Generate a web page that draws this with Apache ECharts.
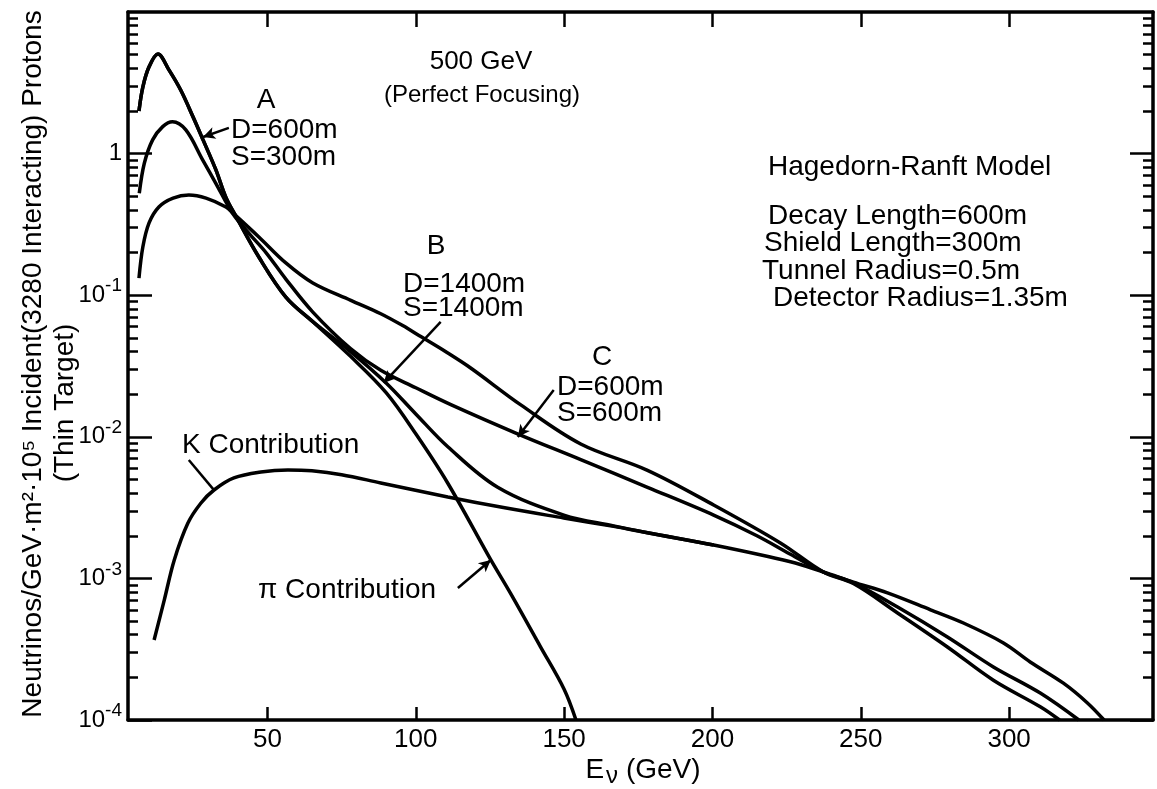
<!DOCTYPE html>
<html><head><meta charset="utf-8">
<script src="https://cdn.jsdelivr.net/npm/echarts@6/dist/echarts.min.js"></script>
<style>html,body{margin:0;padding:0;background:#fff}#c{width:1157px;height:789px}</style>
</head><body><div id="c"></div>
<script>
// ---- data (E in GeV, flux) ----
const curveA = [[6.7,2.0],[8.0,2.95],[10.1,4.1],[13.1,5.05],[16.8,3.9],[20.8,2.8],[24.9,1.82],[28.3,1.25],[32.6,0.77],[36.0,0.49],[39.4,0.36],[47.1,0.186],[56.2,0.097],[65.3,0.065],[78,0.04],[90,0.024],[100,0.0145],[110.8,0.0085],[127.6,0.0044],[149.9,0.0028],[166.7,0.00235],[178.1,0.0021],[200.4,0.00172],[226.3,0.00131],[237.4,0.00111],[247.5,0.00094],[259,0.00079],[273.5,0.0006],[284.6,0.000484],[298.1,0.00035],[307.1,0.000257],[318.3,0.000182],[326.4,0.000132],[332,0.0001]];
const curveB = [[6.7,0.132],[8.0,0.219],[10.1,0.324],[13.4,0.42],[18.2,0.485],[23.5,0.51],[29.3,0.485],[36.0,0.42],[38.4,0.38],[47.1,0.258],[56.2,0.169],[65.3,0.122],[78.1,0.092],[88.2,0.074],[95.6,0.061],[101.7,0.051],[110,0.04],[118.5,0.0306],[135.4,0.0168],[155.6,0.0089],[178.1,0.0058],[200.4,0.0033],[222.9,0.00178],[237.4,0.00111],[247.5,0.00092],[262.4,0.00057],[279.2,0.000328],[294.7,0.000191],[310.5,0.000124],[317,0.0001]];
const curveC = [[6.8,0.525],[8.5,0.855],[11.3,1.25],[14.7,1.55],[18.0,1.68],[22.5,1.47],[28.2,0.90],[32.6,0.617],[38.3,0.378],[44,0.27],[49.5,0.2],[56.2,0.13],[65.3,0.076],[78,0.042],[88.2,0.0295],[100,0.0222],[112,0.0168],[134.3,0.0105],[155.6,0.0069],[178.1,0.0044],[200.4,0.0028],[215,0.002],[226.3,0.00148],[237.4,0.00111],[247.5,0.00093],[262.4,0.000628],[279.2,0.000386],[294.7,0.000237],[310.5,0.000155],[323.5,0.0001]];
const piContribution = [[6.7,2.0],[8.0,2.95],[10.1,4.1],[13.1,5.05],[16.8,3.9],[20.8,2.8],[24.9,1.82],[28.3,1.25],[32.6,0.77],[36.0,0.49],[39.4,0.36],[47.1,0.186],[56.2,0.097],[65.3,0.065],[78,0.037],[90,0.0205],[100,0.0105],[110.8,0.0047],[125.3,0.00135],[132,0.00078],[142,0.00033],[150,0.000165],[154,0.0001]];
const kContribution = [[11.8,0.000367],[15.2,0.0007],[18.6,0.00135],[23.2,0.00246],[27.6,0.00341],[32.0,0.00421],[38.7,0.00512],[47.8,0.00564],[56.9,0.00583],[65,0.00575],[75,0.0054],[88.2,0.00472],[110.8,0.00376],[130,0.00315],[149.9,0.00267],[166.7,0.00233],[178.1,0.0021],[200.4,0.00172]];
const xTickValues = [50,100,150,200,250,300];
const yDecades = [1e-4,1e-3,1e-2,1e-1,1];
const yLabelText = {'0.0001':'-4','0.001':'-3','0.01':'-2','0.1':'-1'};

const minorValues = [];
[-4,-3,-2,-1,0].forEach(d => { for (let k=2;k<=9;k++) minorValues.push(+(k*Math.pow(10,d)).toPrecision(3)); });

const FONT = 'Liberation Sans';
const chart = echarts.init(document.getElementById('c'), null, {renderer:'canvas'});

function lineSeries(name, data) {
  return { name, type:'line', data, xAxisIndex:0, yAxisIndex:0, showSymbol:false, symbol:'none',
    smooth:0.35, lineStyle:{color:'#000', width:3.5}, silent:true, z:3 };
}
function yAx(pos, ticks, len, showLine, showLabel) {
  return { type:'log', logBase:10, min:1e-4, max:10, position:pos, gridIndex:0,
    axisLine:{show:showLine, onZero:false, lineStyle:{color:'#000', width:3.5}},
    axisTick:{show:true, inside:true, length:len, customValues:ticks, lineStyle:{color:'#000', width:2.5}},
    splitLine:{show:false}, minorTick:{show:false},
    axisLabel: showLabel ? {show:true, customValues:yDecades, margin:6, color:'#000',
      fontFamily:FONT, fontSize:24,
      formatter: v => { const k = String(+v.toPrecision(3)); return yLabelText[k] ? '{b|10}{s|' + yLabelText[k] + '}' : '{b|1}'; },
      rich:{ b:{fontFamily:FONT, fontSize:24, color:'#000'}, s:{fontFamily:FONT, fontSize:19, color:'#000', padding:[0,0,18,0]} } } : {show:false}
  };
}
function arrow(from, to, head) {
  return [{coord:from, symbol:'none'},{coord:to, symbol: head ? 'arrow' : 'none', symbolSize:[9,12]}];
}
function txt(x, y, text, align, size) {
  return {type:'text', x, y, silent:true, style:{text, fill:'#000', font: (size||28) + 'px "' + FONT + '"',
    textAlign:align||'left', align:align||'left', textVerticalAlign:'middle', verticalAlign:'middle'}};
}

const option = {
  animation:false,
  backgroundColor:'#fff',
  grid:{left:128, right:4, top:12, bottom:69, containLabel:false},
  xAxis:[
    {type:'value', min:3, max:348.5, position:'bottom',
      axisLine:{onZero:false, lineStyle:{color:'#000', width:3.5}},
      axisTick:{inside:true, length:13, customValues:xTickValues, lineStyle:{color:'#000', width:2.5}},
      axisLabel:{customValues:xTickValues, color:'#000', fontFamily:FONT, fontSize:26, margin:7},
      splitLine:{show:false}},
    {type:'value', min:3, max:348.5, position:'top',
      axisLine:{onZero:false, lineStyle:{color:'#000', width:3.5}},
      axisTick:{inside:true, length:15, customValues:xTickValues, lineStyle:{color:'#000', width:2.5}},
      axisLabel:{show:false}, splitLine:{show:false}}
  ],
  yAxis:[
    yAx('left', minorValues, 10, true, true),
    yAx('left', yDecades, 24, false, false),
    yAx('right', minorValues, 10, true, false),
    yAx('right', yDecades, 23, false, false)
  ],
  series:[
    lineSeries('A: D=600m S=300m', curveA),
    lineSeries('B: D=1400m S=1400m', curveB),
    lineSeries('C: D=600m S=600m', curveC),
    lineSeries('π Contribution', piContribution),
    Object.assign(lineSeries('K Contribution', kContribution), {
      markLine:{silent:true, symbol:['none','arrow'], label:{show:false}, animation:false,
        lineStyle:{color:'#000', width:2.5, type:'solid'},
        data:[
          arrow([37.0,1.52],[28.3,1.31],true),
          arrow([108.4,0.0647],[89.2,0.024],true),
          arrow([146.5,0.0214],[134.4,0.00998],true),
          arrow([23.5,0.00686],[32.0,0.0042],false),
          arrow([114.2,0.000855],[125.3,0.00135],true)
        ]}
    })
  ],
  graphic:[
    txt(481,62,'500 GeV','center',26),
    txt(482,95,'(Perfect Focusing)','center',24),
    txt(266,100,'A','center'),
    txt(231,130,'D=600m'),
    txt(231,157,'S=300m'),
    txt(436,246,'B','center'),
    txt(403,284,'D=1400m'),
    txt(403,308,'S=1400m'),
    txt(602,357,'C','center'),
    txt(557,387,'D=600m'),
    txt(557,413,'S=600m'),
    txt(768,167,'Hagedorn-Ranft Model'),
    txt(768,216,'Decay Length=600m'),
    txt(764,243,'Shield Length=300m'),
    txt(762,271,'Tunnel Radius=0.5m'),
    txt(773,298,'Detector Radius=1.35m'),
    txt(182,445,'K Contribution'),
    txt(258,590,'π Contribution'),
    {type:'text', x:643, y:770, silent:true, style:{text:'{e|E}{n|ν}{e| (GeV)}', textAlign:'center', align:'center', textVerticalAlign:'middle', verticalAlign:'middle',
      rich:{e:{fontFamily:FONT, fontSize:28, fill:'#000', color:'#000'}, n:{fontFamily:FONT, fontSize:24, fill:'#000', color:'#000', padding:[12,0,0,2]}}}},
    {type:'text', x:33, y:364, rotation:Math.PI/2, silent:true, style:{text:'Neutrinos/GeV·m²·10⁵ Incident(3280 Interacting) Protons', fill:'#000', font:'28px "'+FONT+'"', textAlign:'center', align:'center', textVerticalAlign:'middle', verticalAlign:'middle'}},
    {type:'text', x:65, y:403, rotation:Math.PI/2, silent:true, style:{text:'(Thin Target)', fill:'#000', font:'28px "'+FONT+'"', textAlign:'center', align:'center', textVerticalAlign:'middle', verticalAlign:'middle'}}
  ]
};
chart.setOption(option);
</script></body></html>
